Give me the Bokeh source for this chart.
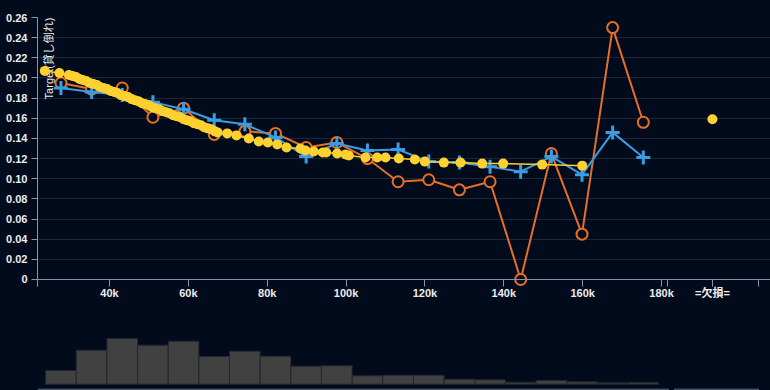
import math
from bokeh.plotting import figure
from bokeh.models import Range1d, FixedTicker, Span, Label, PrintfTickFormatter
from bokeh.layouts import column
from bokeh.embed import file_html
from bokeh.resources import INLINE

# ---------------- data ----------------
bin_edges = [23800, 31570, 39350, 47120, 54890, 62670, 70440, 78210, 85980, 93760,
             101530, 109300, 117080, 124850, 132620, 140390, 148170, 155940, 163710,
             171490, 179260]
bin_centers = [27690, 35460, 43240, 51010, 58780, 66560, 74330, 82100, 89870, 97650,
               105420, 113190, 120970, 128740, 136510, 144280, 152060, 159830, 167600,
               175380]
bin_counts = [137, 340, 457, 390, 430, 277, 330, 280, 180, 184,
              84, 90, 90, 50, 44, 20, 37, 24, 14, 17]

actual_rate = [0.195, 0.189, 0.190, 0.161, 0.170, 0.144, 0.147, 0.145, 0.131, 0.136,
               0.120, 0.097, 0.099, 0.089, 0.097, 0.000, 0.125, 0.045, 0.250, 0.156]
pred_rate = [0.190, 0.186, 0.183, 0.176, 0.169, 0.158, 0.154, 0.141, 0.122, 0.135,
             0.128, 0.129, 0.117, 0.116, 0.112, 0.107, 0.122, 0.104, 0.146, 0.121]

curve_x = [23600, 27300,
           29700, 30600, 31500, 32400, 33200, 34100, 35000, 35900, 36800, 37600,
           38500, 39400, 40300, 41200, 42000, 42900, 43800, 44700, 45600, 46400,
           47300, 48200, 49100, 50000, 50800, 51700, 52600, 53500, 54400, 55200,
           56100, 57000, 57900, 58800, 59600, 60500, 61400, 62300, 63200, 64000,
           64900, 65800, 66700, 67400,
           69850, 72210, 75330, 77860, 80140, 82530, 84890, 88440, 89710, 91810,
           94090, 94950, 97740, 99850, 100690, 104920, 107890, 109990, 113370,
           117420, 119960, 124780, 129010, 134520, 139840, 149730, 159880]
curve_y = [0.207, 0.205,
           0.203, 0.202, 0.201, 0.199, 0.198, 0.197, 0.195, 0.194, 0.193, 0.191,
           0.190, 0.189, 0.187, 0.186, 0.185, 0.183, 0.182, 0.181, 0.179, 0.178,
           0.177, 0.175, 0.174, 0.173, 0.171, 0.170, 0.169, 0.167, 0.166, 0.165,
           0.163, 0.162, 0.161, 0.159, 0.158, 0.157, 0.155, 0.154, 0.153, 0.151,
           0.150, 0.149, 0.147, 0.146,
           0.145, 0.143, 0.140, 0.137, 0.136, 0.134, 0.131, 0.130, 0.128, 0.127,
           0.126, 0.126, 0.125, 0.124, 0.123, 0.121, 0.121, 0.121, 0.120,
           0.119, 0.117, 0.116, 0.116, 0.115, 0.115, 0.114, 0.113]

missing_label = "=欠損="
missing_x = 192900
missing_rate = 0.159

x_tick_values = [40000, 60000, 80000, 100000, 120000, 140000, 160000, 180000]
x_tick_labels = ["40k", "60k", "80k", "100k", "120k", "140k", "160k", "180k"]
y_tick_values = [0, 0.02, 0.04, 0.06, 0.08, 0.10, 0.12, 0.14, 0.16, 0.18, 0.20,
                 0.22, 0.24, 0.26]
y_label = "Target(貸し倒れ)"

# ---------------- style ----------------
BG = "#020b1c"
GRID = "#1b2638"
AXIS = "#8795aa"
TXT = "#ececec"
ORANGE = "#e66f27"
BLUE = "#3a9de2"
YELLOW = "#fdd12f"
FONT = "'Liberation Sans', 'Noto Sans CJK JP', sans-serif"

X_START, X_END = 21741, 207630
axis_caps = [21800, 181500, 204590]   # outer tick marks of the two axis segments
panel_left = [21868, 183284]
panel_right = [181760, 204590]

xr = Range1d(X_START, X_END)

p = figure(width=770, height=318, x_range=xr, y_range=Range1d(-0.00695, 0.26),
           output_backend="svg", toolbar_location=None,
           min_border_left=37, min_border_right=0, min_border_top=17,
           min_border_bottom=32)
p.background_fill_color = BG
p.border_fill_color = BG
p.outline_line_color = None

p.xgrid.grid_line_color = None
p.ygrid.grid_line_color = GRID
p.ygrid.ticker = FixedTicker(ticks=y_tick_values)

# y axis
p.yaxis.ticker = FixedTicker(ticks=y_tick_values)
p.yaxis.formatter = PrintfTickFormatter(format="%.2f")
p.yaxis.major_label_overrides = {0: "0"}
p.yaxis.axis_line_color = AXIS
p.yaxis.major_tick_line_color = AXIS
p.yaxis.minor_tick_line_color = None
p.yaxis.major_tick_out = 6
p.yaxis.major_tick_in = 0
p.yaxis.major_label_standoff = 4
p.yaxis.major_label_text_color = TXT
p.yaxis.major_label_text_font = FONT
p.yaxis.major_label_text_font_size = "11px"
p.yaxis.major_label_text_font_style = "bold"

# x axis
xt = x_tick_values + axis_caps + [missing_x]
overrides = {v: l for v, l in zip(x_tick_values, x_tick_labels)}
for c in axis_caps:
    overrides[c] = ""
overrides[missing_x] = missing_label
p.xaxis.ticker = FixedTicker(ticks=xt)
p.xaxis.major_label_overrides = overrides
p.xaxis.axis_line_color = None
p.xaxis.major_tick_line_color = AXIS
p.xaxis.minor_tick_line_color = None
p.xaxis.major_tick_in = 7
p.xaxis.major_tick_out = 0
p.xaxis.major_label_standoff = 0
p.xaxis.major_label_text_color = TXT
p.xaxis.major_label_text_font = FONT
p.xaxis.major_label_text_font_size = "11px"
p.xaxis.major_label_text_font_style = "bold"

p.add_layout(Span(location=0, dimension="width", line_color=AXIS, line_width=1))

p.add_layout(Label(x=23262, y=0.26, text=y_label, angle=math.pi / 2,
                   text_align="right", text_baseline="top", text_color=TXT,
                   text_font=FONT, text_font_size="11px", level="underlay"))

# series
p.line(bin_centers, actual_rate, line_color=ORANGE, line_width=2)
p.scatter(bin_centers, actual_rate, marker="circle", size=11, fill_color=BG,
          line_color=ORANGE, line_width=2)
p.line(bin_centers, pred_rate, line_color=BLUE, line_width=2)
p.scatter(bin_centers, pred_rate, marker="cross", size=14, line_color=BLUE,
          line_width=3)
p.line(curve_x, curve_y, line_color=YELLOW, line_width=1.5)
p.scatter(curve_x, curve_y, marker="circle", size=10, fill_color=YELLOW,
          line_color=None)
p.scatter([missing_x], [missing_rate], marker="circle", size=10,
          fill_color=YELLOW, line_color=None)

# ---------------- histogram ----------------
h = figure(width=770, height=72, x_range=xr, y_range=Range1d(-63, 657),
           output_backend="svg", toolbar_location=None,
           min_border_left=37, min_border_right=0, min_border_top=0,
           min_border_bottom=0)
h.background_fill_color = BG
h.border_fill_color = BG
h.outline_line_color = None
h.axis.visible = False
h.grid.visible = False
h.quad(left=bin_edges[:-1], right=bin_edges[1:], top=bin_counts, bottom=0,
       fill_color="#414141", line_color="#22262e", line_width=1)
h.quad(left=panel_left, right=panel_right, top=[-50, -50],
       bottom=[-400, -400], fill_color=None, line_color="#5f6e84", line_width=1)

layout = column(p, h, styles={"background-color": BG})
open("out.html", "w").write(file_html(layout, INLINE))
